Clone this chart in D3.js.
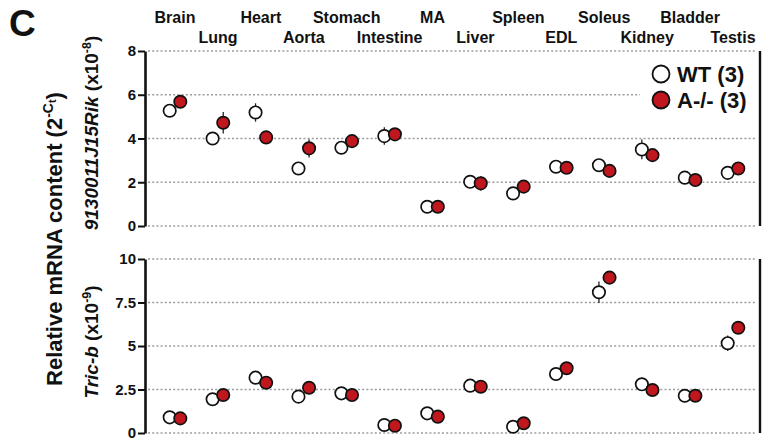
<!DOCTYPE html>
<html>
<head>
<meta charset="utf-8">
<script src="https://cdn.jsdelivr.net/npm/d3@7"></script>
<style>
  body { margin: 0; background: #fff; }
  svg { display: block; }
  text { font-family: "Liberation Sans", Arial, Helvetica, sans-serif; font-weight: bold; fill: #111; }
</style>
</head>
<body>
<svg id="chart" width="764" height="439"></svg>
<script>
// Tissues, in plotting order
const tissues = ["Brain", "Lung", "Heart", "Aorta", "Stomach", "Intestine", "MA",
                 "Liver", "Spleen", "EDL", "Soleus", "Kidney", "Bladder", "Testis"];

// 9130011J15Rik, relative content (x10^-8), mean and SEM
const ricWT    = [5.27, 4.00, 5.19, 2.63, 3.58, 4.11, 0.88, 2.02, 1.49, 2.71, 2.78, 3.50, 2.21, 2.43];
const ricKO    = [5.68, 4.72, 4.05, 3.55, 3.88, 4.19, 0.88, 1.95, 1.80, 2.66, 2.52, 3.24, 2.10, 2.63];
const ricWTsem = [0.12, 0.10, 0.42, 0.10, 0.12, 0.40, 0.05, 0.10, 0.10, 0.10, 0.10, 0.45, 0.10, 0.12];
const ricKOsem = [0.15, 0.49, 0.20, 0.42, 0.15, 0.15, 0.05, 0.33, 0.20, 0.10, 0.10, 0.20, 0.10, 0.15];
const ricTicks = [0, 2, 4, 6, 8];
const ricTickLabels = ["0", "2", "4", "6", "8"];

// Tric-b, relative content (x10^-9), mean and SEM
const tricWT    = [0.90, 1.94, 3.18, 2.09, 2.28, 0.46, 1.13, 2.72, 0.36, 3.39, 8.09, 2.80, 2.14, 5.16];
const tricKO    = [0.84, 2.18, 2.89, 2.60, 2.18, 0.42, 0.94, 2.66, 0.56, 3.72, 8.93, 2.47, 2.14, 6.05];
const tricWTsem = [0.15, 0.15, 0.15, 0.15, 0.15, 0.20, 0.15, 0.15, 0.30, 0.15, 0.62, 0.15, 0.15, 0.45];
const tricKOsem = [0.15, 0.15, 0.15, 0.20, 0.15, 0.15, 0.15, 0.15, 0.15, 0.15, 0.20, 0.15, 0.15, 0.20];
const tricTicks = [0, 2.5, 5, 7.5, 10];
const tricTickLabels = ["0", "2.5", "5", "7.5", "10"];

const groups = ["WT (3)", "A-/- (3)"];
const groupFill = ["#ffffff", "#c0161d"];

const svg = d3.select("#chart");
const axisX = 145, rightX = 760;
const dx = 5.3, r = 6.2;

const x = d3.scalePoint().domain(tissues).range([175, 733]);

// Panel letter
svg.append("text").attr("x", 9).attr("y", 36).style("font-size", "37px").text("C");

// Tissue names, staggered over two rows
svg.append("g").selectAll("text").data(tissues).join("text")
  .attr("x", d => x(d))
  .attr("y", (d, i) => i % 2 === 0 ? 23 : 42.5)
  .attr("text-anchor", "middle")
  .style("font-size", "16px")
  .text(d => d);

// Shared y title
const yTitle = svg.append("text")
  .attr("transform", "translate(62,239) rotate(-90)")
  .attr("text-anchor", "middle")
  .style("font-size", "22px");
yTitle.append("tspan").text("Relative mRNA content (2");
yTitle.append("tspan").attr("dy", -9).style("font-size", "14px").text("-C");
yTitle.append("tspan").attr("dy", 3).style("font-size", "11px").text("t");
yTitle.append("tspan").attr("dy", 6).text(")");

function drawPanel(cfg) {
  const g = svg.append("g");
  const y = d3.scaleLinear().domain([0, cfg.max]).range([cfg.bottom, cfg.top]);

  // dotted gridlines
  g.append("g").selectAll("line").data(cfg.ticks).join("line")
    .attr("x1", axisX + 3).attr("x2", rightX - 3)
    .attr("y1", d => y(d)).attr("y2", d => y(d))
    .attr("stroke", "#9c9c9c").attr("stroke-width", 1.3)
    .attr("stroke-dasharray", "2,2.2");

  // legend box hides the gridlines behind it
  if (cfg.legend) {
    const lg = g.append("g");
    lg.append("rect").attr("x", 640).attr("y", 60).attr("width", 117).attr("height", 55).attr("fill", "#fff");
    lg.selectAll("circle").data(groups).join("circle")
      .attr("cx", 661).attr("cy", (d, i) => 74 + i * 26).attr("r", 8.5)
      .attr("fill", (d, i) => groupFill[i]).attr("stroke", "#111").attr("stroke-width", 1.8);
    lg.selectAll("text").data(groups).join("text")
      .attr("x", 677).attr("y", (d, i) => 81.5 + i * 26)
      .style("font-size", "22px").text(d => d);
  }

  // left axis
  const ax = g.append("g").attr("transform", `translate(${axisX},0)`)
    .call(d3.axisLeft(y).tickValues(cfg.ticks)
      .tickFormat((d, i) => cfg.tickLabels[i]).tickSize(7).tickSizeOuter(0).tickPadding(2));
  ax.select(".domain").attr("stroke", "#111").attr("stroke-width", 2.6);
  ax.selectAll(".tick line").attr("stroke", "#111").attr("stroke-width", 2);
  ax.selectAll(".tick text").style("font-size", "15px").attr("fill", "#111")
    .style("font-family", "\"Liberation Sans\", Arial, sans-serif").style("font-weight", "bold");

  // right frame line
  g.append("line").attr("x1", rightX).attr("x2", rightX)
    .attr("y1", y(cfg.max)).attr("y2", y(0))
    .attr("stroke", "#111").attr("stroke-width", 2.4);

  // gene label
  const lab = g.append("text")
    .attr("transform", `translate(98,${cfg.labelY}) rotate(-90)`)
    .attr("text-anchor", "middle").style("font-size", "19px");
  lab.append("tspan").style("font-style", "italic").text(cfg.gene);
  lab.append("tspan").text(" (x10");
  lab.append("tspan").attr("dy", -7).style("font-size", "12.5px").text(cfg.exp);
  lab.append("tspan").attr("dy", 7).text(")");

  // series: error bars under the markers
  const series = [
    { vals: cfg.wt, sem: cfg.wtSem, off: -dx, fill: groupFill[0] },
    { vals: cfg.ko, sem: cfg.koSem, off: dx, fill: groupFill[1] }
  ];
  series.forEach(s => {
    g.append("g").selectAll("line").data(tissues).join("line")
      .attr("x1", d => x(d) + s.off).attr("x2", d => x(d) + s.off)
      .attr("y1", (d, i) => y(s.vals[i] - s.sem[i]))
      .attr("y2", (d, i) => y(s.vals[i] + s.sem[i]))
      .attr("stroke", "#222").attr("stroke-width", 1.3);
  });
  series.forEach(s => {
    g.append("g").selectAll("circle").data(tissues).join("circle")
      .attr("cx", d => x(d) + s.off)
      .attr("cy", (d, i) => y(s.vals[i]))
      .attr("r", r)
      .attr("fill", s.fill).attr("stroke", "#111").attr("stroke-width", 1.7);
  });
}

drawPanel({
  wt: ricWT, ko: ricKO, wtSem: ricWTsem, koSem: ricKOsem,
  ticks: ricTicks, tickLabels: ricTickLabels, max: 8,
  top: 51, bottom: 226, gene: "9130011J15Rik", exp: "-8", labelY: 133, legend: true
});
drawPanel({
  wt: tricWT, ko: tricKO, wtSem: tricWTsem, koSem: tricKOsem,
  ticks: tricTicks, tickLabels: tricTickLabels, max: 10,
  top: 259, bottom: 433, gene: "Tric-b", exp: "-9", labelY: 342, legend: false
});
</script>
</body>
</html>
